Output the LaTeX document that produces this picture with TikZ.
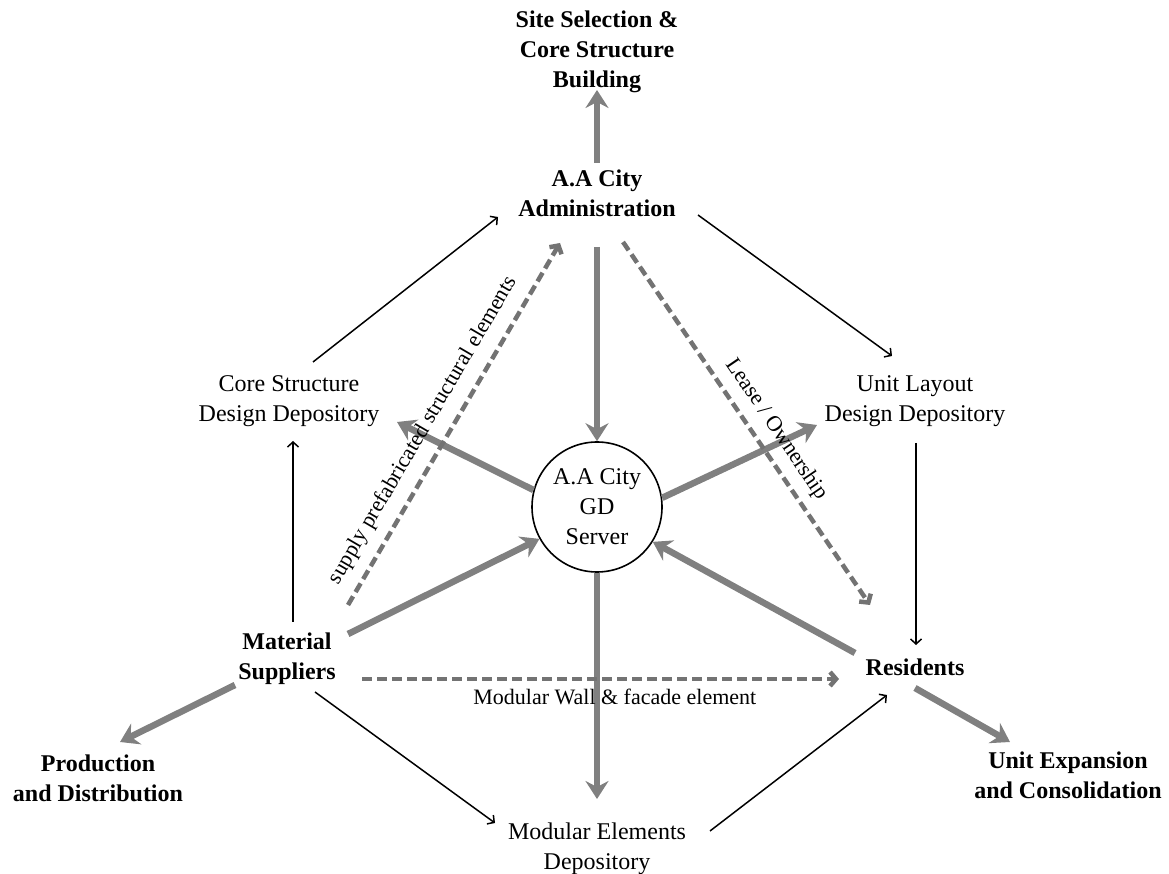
\documentclass[tikz,border=0pt]{standalone}
\usepackage{fontspec}
\setmainfont{Liberation Serif}
\usepackage{tikz}
\usetikzlibrary{
  arrows.meta,
  positioning,
  calc
}

\begin{document}
\begin{tikzpicture}[
  x=1pt, y=1pt,
  box/.style={
    align=center,
    inner sep=2pt,
    font=\fontsize{24}{30}\selectfont
  },
  keybox/.style={
    box,
    font=\fontsize{24}{30}\selectfont\bfseries
  },
  hub/.style={
    draw,
    circle,
    line width=1.6pt,
    minimum size=130pt,
    inner sep=0pt,
    align=center,
    font=\fontsize{24}{30}\selectfont
  },
  link/.style={
    -{Straight Barb[length=5pt,width=11pt]},
    line width=1.5pt
  },
  bigarrow/.style={
    -{Stealth[length=18pt,width=23pt,inset=6pt]},
    line width=6.5pt,
    draw=black!50
  },
  supplyarrow/.style={
    -{Straight Barb[length=6pt,width=14pt]},
    line width=4.5pt,
    dash pattern=on 10pt off 5pt,
    draw=black!55
  },
  edgelabel/.style={
    font=\fontsize{22}{26}\selectfont,
    inner sep=2pt
  }
]

\useasboundingbox (0,0) rectangle (1169,873);

% --- actors and depositories ---
\node[keybox] (site) at (597,821) {Site Selection \&\\Core Structure\\Building};
\node[keybox] (admin) at (597,680) {A.A City\\Administration};
\node[hub] (server) at (597,366) {A.A City\\GD\\Server};
\node[box] (core) at (289,472) {Core Structure\\Design Depository};
\node[box] (layout) at (915,472) {Unit Layout\\Design Depository};
\node[keybox] (supp) at (287,214) {Material\\Suppliers};
\node[keybox] (res) at (915,206) {Residents};
\node[keybox] (prod) at (98,95) {Production\\and Distribution};
\node[keybox] (expand) at (1068,98) {Unit Expansion\\and Consolidation};
\node[box] (modular) at (597,24) {Modular Elements\\Depository};

% --- outer cycle (thin) ---
\draw[link] ([shift={(24,39)}]core.center) -- ([shift={(-99,-24)}]admin.center);
\draw[link] ([shift={(101,-22)}]admin.center) -- ([shift={(-23,45)}]layout.center);
\draw[link] ([shift={(1,-42)}]layout.center) -- ([shift={(1,22)}]res.center);
\draw[link] ([shift={(6,37)}]supp.center) -- ([shift={(4,-40)}]core.center);
\draw[link] ([shift={(28,-33)}]supp.center) -- ([shift={(-102,26)}]modular.center);
\draw[link] ([shift={(113,18)}]modular.center) -- ([shift={(-28,-28)}]res.center);

% --- data through the GD server (thick) ---
\draw[bigarrow] ([yshift=30]admin.center) -- ([yshift=-38]site.center);
\draw[bigarrow] ([yshift=-54]admin.center) -- (server.north);
\draw[bigarrow] (server.165) -- ([shift={(108,-21)}]core.center);
\draw[bigarrow] ([shift={(61,25)}]supp.center) -- (server.209);
\draw[bigarrow] (server.8) -- ([shift={(-98,-24)}]layout.center);
\draw[bigarrow] ([shift={(-60,14)}]res.center) -- (server.328);
\draw[bigarrow] (server.south) -- ([yshift=50]modular.center);
\draw[bigarrow] ([shift={(-52,-26)}]supp.center) -- ([shift={(22,36)}]prod.center);
\draw[bigarrow] ([yshift=-21]res.center) -- ([shift={(-58,33)}]expand.center);

% --- material and tenure flows (dashed) ---
\draw[supplyarrow] ([shift={(61,54)}]supp.center) --
  node[edgelabel,pos=0.45,sloped,above=9pt]{supply prefabricated structural elements}
  ([shift={(-37,-50)}]admin.center);
\draw[supplyarrow] ([shift={(26,-49)}]admin.center) --
  node[edgelabel,pos=0.55,sloped,above=7pt]{Lease / Ownership}
  ([shift={(-45,62)}]res.center);
\draw[supplyarrow] ([shift={(75,-20)}]supp.center) --
  node[edgelabel,pos=0.53,below=6pt]{Modular Wall \& facade element}
  ([shift={(-76,-12)}]res.center);

\end{tikzpicture}
\end{document}
